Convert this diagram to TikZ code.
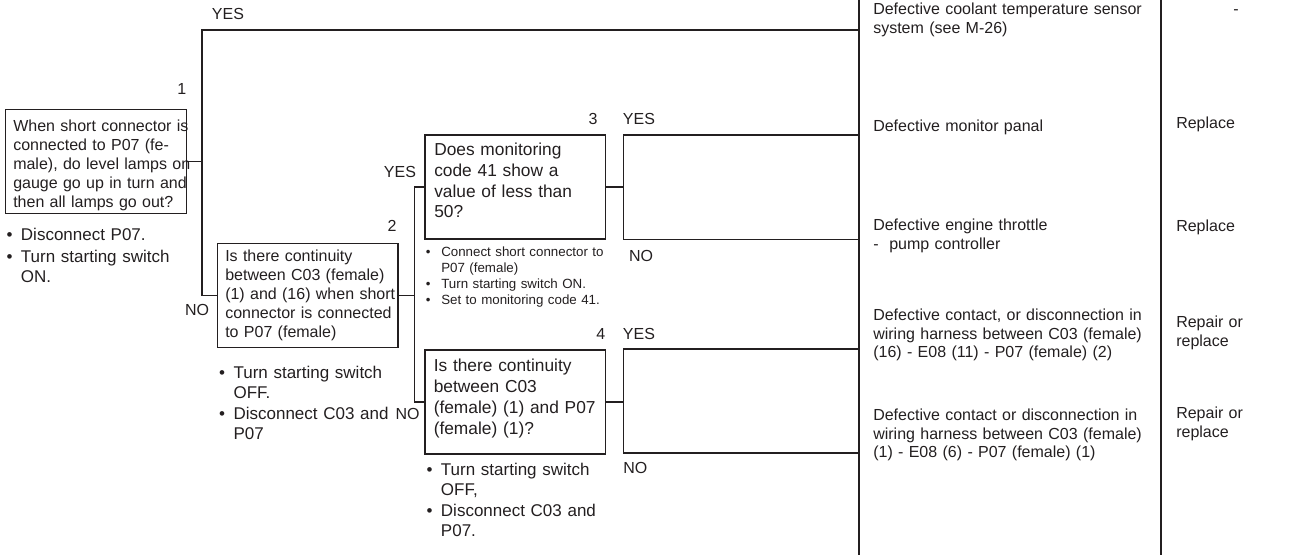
\documentclass[tikz,border=0pt]{standalone}
\usepackage{fontspec}
\setmainfont{Liberation Sans}
\usetikzlibrary{positioning,calc}
\definecolor{ink}{RGB}{35,31,32}
\newcommand\dotitem[1][6.3pt]{\leavevmode\llap{\textbullet\hspace{#1}}}

\begin{document}
\begin{tikzpicture}[x=0.75pt,y=-0.75pt,
  qbox/.style={draw=ink,line width=1.1pt,minimum width=135.4pt,minimum height=78pt,inner sep=0pt},
  conn/.style={draw=ink,line width=1pt},
  col/.style={draw=ink,line width=1.4pt},
  txt/.style={anchor=base west,inner sep=0pt,align=left,text width=230pt,text=ink,font=\fontsize{12}{14.2}\selectfont},
  big/.style={font=\fontsize{13}{15.6}\selectfont},
  note/.style={font=\fontsize{12.75}{14.6}\selectfont},
  small/.style={font=\fontsize{10}{11.8}\selectfont},
  res/.style={font=\fontsize{12}{13.8}\selectfont},
  lbl/.style={anchor=base,inner sep=0pt,text=ink,font=\fontsize{12}{14}\selectfont}]
\useasboundingbox (0,0) rectangle (1296,555);

% question boxes
\node[qbox] (q1) at (96,161.75) {};
\node[qbox] (q2) at (307.5,295.5) {};
\node[qbox] (q3) at (515.25,187.15) {};
\node[qbox] (q4) at (515.25,402) {};

\node[txt] (t1) at (13,131.7) {When short connector is\\connected to P07 (fe-\\male), do level lamps on\\gauge go up in turn and\\then all lamps go out?};
\node[txt] (t2) at (225,261.7) {Is there continuity\\between C03 (female)\\(1) and (16) when short\\connector is connected\\to P07 (female)};
\node[txt,big] (t3) at (434,155.5) {Does monitoring\\code 41 show a\\value of less than\\50?};
\node[txt,big] (t4) at (433.5,372) {Is there continuity\\between C03\\(female) (1) and P07\\(female) (1)?};

% check notes
\node[txt,note] (n1) at (20.7,241) {\dotitem Disconnect P07.\\[1.7pt]\dotitem Turn starting switch\\ON.};
\node[txt,note] (n2) at (233.3,378.7) {\dotitem Turn starting switch\\OFF.\\[1.7pt]\dotitem Disconnect C03 and\\P07};
\node[txt,small] (n3) at (441,257) {\dotitem[8pt]Connect short connector to\\P07 (female)\\\dotitem[8pt]Turn starting switch ON.\\\dotitem[8pt]Set to monitoring code 41.};
\node[txt,note] (n4) at (440.7,475.7) {\dotitem Turn starting switch\\OFF,\\[1.7pt]\dotitem Disconnect C03 and\\P07.};

% step numbers and answers
\node[lbl] (y0) at (228,20) {YES};
\node[lbl] (k1) at (181.7,95) {1};
\node[lbl] (x0) at (197,316) {NO};
\node[lbl] (k2) at (392,231.5) {2};
\node[lbl] (y1) at (400,178) {YES};
\node[lbl] (k3) at (593,125) {3};
\node[lbl] (x1) at (407.5,420) {NO};
\node[lbl] (k4) at (600.7,340) {4};
\node[lbl] (y3) at (639,124.5) {YES};
\node[lbl] (x3) at (641,262) {NO};
\node[lbl] (y4) at (639,339.5) {YES};
\node[lbl] (x4) at (635.3,473.5) {NO};

% causes
\node[txt,res] (r0) at (873,15) {Defective coolant temperature sensor\\system (see M-26)};
\node[txt,res] (r1) at (873,131.7) {Defective monitor panal};
\node[txt,res] (r2) at (873,230.7) {Defective engine throttle\\-~~pump controller};
\node[txt,res] (r3) at (873,321) {Defective contact, or disconnection in\\wiring harness between C03 (female)\\(16) - E08 (11) - P07 (female) (2)};
\node[txt,res] (r4) at (873,421) {Defective contact or disconnection in\\wiring harness between C03 (female)\\(1) - E08 (6) - P07 (female) (1)};

% remedies
\node[lbl] (m0) at (1236,15) {-};
\node[txt] (m1) at (1176,129) {Replace};
\node[txt] (m2) at (1176,232) {Replace};
\node[txt] (m3) at (1176,327.7) {Repair or\\replace};
\node[txt] (m4) at (1176,418.3) {Repair or\\replace};

% column rules and branch ends
\coordinate (c1) at (859,0);
\coordinate (c1b) at (859,555);
\coordinate (c2) at (1161,0);
\coordinate (c2b) at (1161,555);
\coordinate (s1) at (202,30);
\coordinate (e0) at (859,30);
\coordinate (e1) at (859,135);
\coordinate (e2) at (859,239.3);
\coordinate (e3) at (859,349);
\coordinate (e4) at (859,453);

\draw[col] (c1) -- (c1b);
\draw[col] (c2) -- (c2b);

\draw[conn] (e0) -- (s1) |- (q2.west);
\draw[conn] (q1.east) -- (q1.east -| s1);
\draw[conn] (q2.east) -- ++(16,0) coordinate (s2);
\draw[conn] (q3.west) -| (s2) |- (q4.west);
\draw[conn] (q3.east) -- ++(17,0) coordinate (s3);
\draw[conn] (e1) -| (s3) |- (e2);
\draw[conn] (q4.east) -- ++(17,0) coordinate (s4);
\draw[conn] (e3) -| (s4) |- (e4);
\end{tikzpicture}
\end{document}
